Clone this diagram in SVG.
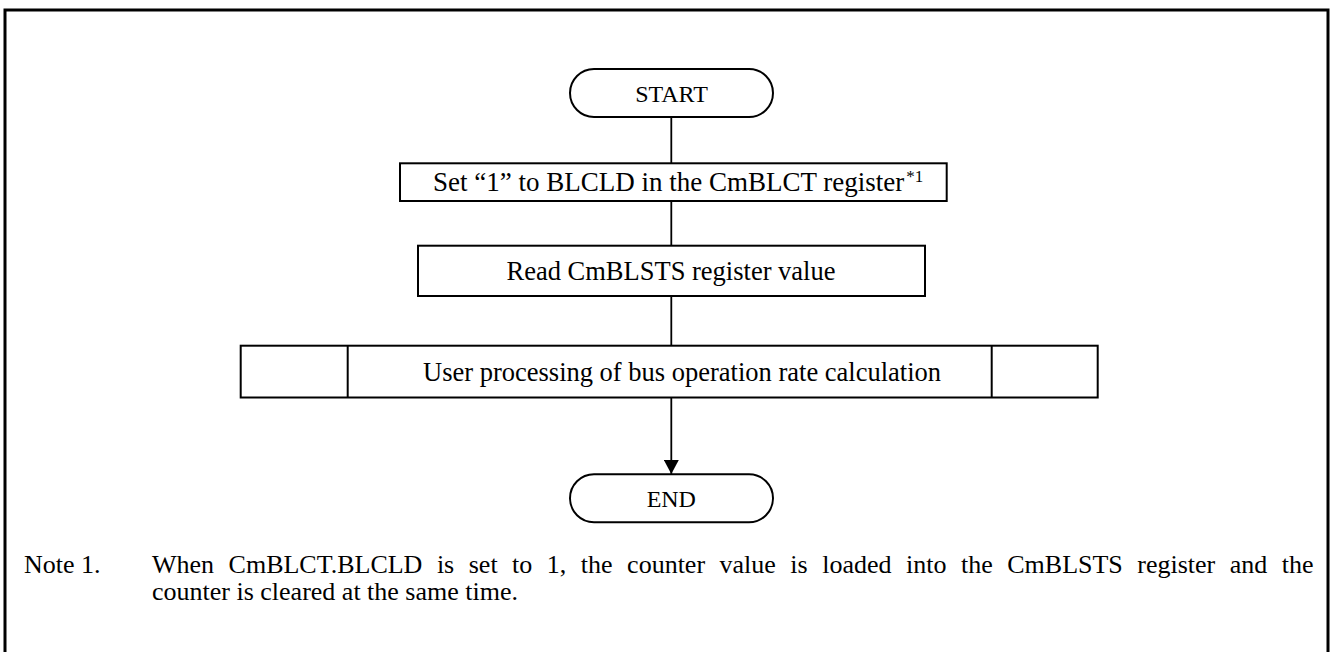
<svg xmlns="http://www.w3.org/2000/svg" width="1334" height="652" viewBox="0 0 1334 652">
  <style>
    .frame { fill: none; stroke: #000; stroke-width: 3; }
    .box { fill: #fff; stroke: #000; stroke-width: 2; }
    .wire { fill: none; stroke: #000; stroke-width: 1.8; }
    .txt { font-family: "Liberation Serif", "Times New Roman", serif; fill: #000; }
    .term { font-size: 24px; text-anchor: middle; }
    .step { font-size: 26.5px; }
    .note { font-size: 26px; }
  </style>
  <defs>
    <marker id="arrow" markerWidth="14" markerHeight="15" refX="14" refY="7.5" orient="auto" markerUnits="userSpaceOnUse">
      <path d="M0,0 L14,7.5 L0,15 Z" fill="#000"/>
    </marker>
  </defs>

  <!-- outer frame, open at the bottom edge of the page -->
  <rect class="frame" x="5" y="10" width="1323" height="670"/>

  <!-- connectors -->
  <g id="connectors">
    <line class="wire" x1="671.3" y1="117" x2="671.3" y2="163"/>
    <line class="wire" x1="671.3" y1="201" x2="671.3" y2="246"/>
    <line class="wire" x1="671.3" y1="296" x2="671.3" y2="346"/>
    <line class="wire" x1="671.3" y1="398" x2="671.3" y2="474" marker-end="url(#arrow)"/>
  </g>

  <g id="start">
    <rect class="box" x="570" y="69" width="203" height="48" rx="24" ry="24"/>
    <text class="txt term" x="671.5" y="101.5">START</text>
  </g>

  <g id="set-blcld">
    <rect class="box" x="400" y="163.3" width="546.7" height="37.7"/>
    <text class="txt" font-size="27" x="433" y="190.5">Set “1” to BLCLD in the CmBLCT register<tspan font-size="17" dx="2" dy="-9">*1</tspan></text>
  </g>

  <g id="read-blsts">
    <rect class="box" x="418" y="245.7" width="507" height="50.3"/>
    <text class="txt step" x="671" y="279.5" text-anchor="middle">Read CmBLSTS register value</text>
  </g>

  <g id="user-processing">
    <rect class="box" x="240.7" y="345.7" width="857" height="51.8"/>
    <line class="box" x1="347.7" y1="345.7" x2="347.7" y2="397.5"/>
    <line class="box" x1="991.7" y1="345.7" x2="991.7" y2="397.5"/>
    <text class="txt step" x="423" y="381">User processing of bus operation rate calculation</text>
  </g>

  <g id="end">
    <rect class="box" x="570" y="474.3" width="203" height="48" rx="24" ry="24"/>
    <text class="txt term" x="671.3" y="507">END</text>
  </g>

  <g id="note">
    <text class="txt note" x="24" y="572.5">Note 1.</text>
    <text class="txt note" x="152" y="572.5" word-spacing="8">When CmBLCT.BLCLD is set to 1, the counter value is loaded into the CmBLSTS register and the</text>
    <text class="txt note" x="152" y="599.5">counter is cleared at the same time.</text>
  </g>
</svg>
